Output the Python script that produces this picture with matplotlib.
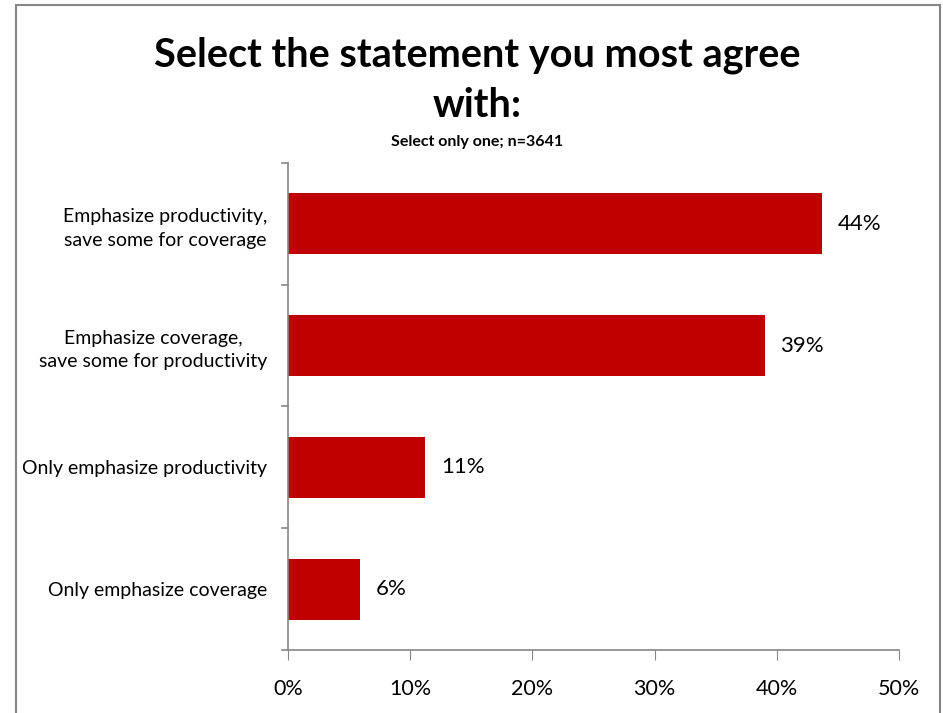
import matplotlib
matplotlib.use("Agg")
import matplotlib.pyplot as plt
from matplotlib.patches import Rectangle

plt.rcParams["font.family"] = ["Lato", "DejaVu Sans"]

categories = ["Emphasize productivity,\nsave some for coverage",
              "Emphasize coverage,\nsave some for productivity",
              "Only emphasize productivity",
              "Only emphasize coverage"]
values = [43.7, 39.0, 11.2, 5.9]
value_labels = ["44%", "39%", "11%", "6%"]
xticks = [0, 10, 20, 30, 40, 50]

BAR = "#C00000"
AXIS = "#868686"

fig = plt.figure(figsize=(9.43, 7.13), dpi=100)
ax = fig.add_axes([0.3054, 0.0884, 0.6479, 0.683])

ypos = list(range(len(categories)))[::-1]
ax.barh(ypos, values, height=0.5, color=BAR)
for y, v, lab in zip(ypos, values, value_labels):
    ax.text(v + 1.3, y, lab, va="center", ha="left", fontsize=16)

ax.set_xlim(0, 50)
ax.set_ylim(-0.5, len(categories) - 0.5)
ax.set_xticks(xticks)
ax.set_xticklabels([f"{t}%" for t in xticks], fontsize=15.5)
ax.set_yticks(ypos)
ax.set_yticklabels(categories, fontsize=14, multialignment="center",
                   linespacing=1.45)
ax.tick_params(axis="y", length=0, pad=15)
ax.tick_params(axis="x", length=7, color=AXIS, pad=14)
# category separator ticks on the y axis
for b in [-0.5, 0.5, 1.5, 2.5, 3.5]:
    ax.plot([-0.5, 0], [b, b], color=AXIS, lw=1.2, clip_on=False)
for s in ["top", "right"]:
    ax.spines[s].set_visible(False)
for s in ["left", "bottom"]:
    ax.spines[s].set_color(AXIS)
    ax.spines[s].set_linewidth(1.2)

fig.text(0.506, 0.922, "Select the statement you most agree", ha="center",
         va="center", fontsize=28.5, fontweight="bold")
fig.text(0.506, 0.852, "with:", ha="center", va="center", fontsize=28.5,
         fontweight="bold")
fig.text(0.506, 0.801, "Select only one; n=3641", ha="center", va="center",
         fontsize=11.5, fontweight="bold")

fig.patches.append(Rectangle((16 / 943, -0.01), 924 / 943, 1.003,
                             transform=fig.transFigure, fill=False,
                             edgecolor=AXIS, lw=1.5))

fig.savefig("out.png", dpi=100)
